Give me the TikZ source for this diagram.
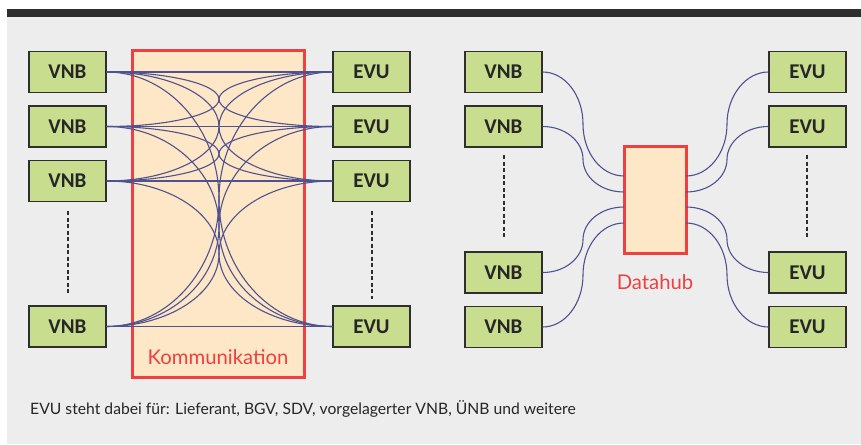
\documentclass[tikz,border=0pt]{standalone}
\usepackage{fontspec}
\setmainfont{Lato}
\newfontfamily\boxfont{Carlito}
\definecolor{bggray}{HTML}{EDEDED}
\definecolor{barcol}{HTML}{2E2E2E}
\definecolor{boxgreen}{HTML}{C9DD8E}
\definecolor{boxedge}{HTML}{2F2F2F}
\definecolor{peach}{HTML}{FDE7C6}
\definecolor{redline}{HTML}{EE4040}
\definecolor{linkblue}{HTML}{50528F}
\begin{document}
\begin{tikzpicture}[x=1pt,y=-1pt,
  actor/.style={draw=boxedge,line width=1.4pt,fill=boxgreen,minimum width=77pt,minimum height=41pt,inner sep=0pt,font=\boxfont\bfseries\fontsize{21}{21}\selectfont,text=black!85},
  hub/.style={draw=redline,line width=3pt,fill=peach,inner sep=0pt},
  link/.style={draw=linkblue,line width=1.1pt},
  dots/.style={draw=barcol,line width=1.8pt,dash pattern=on 4pt off 2.5pt},
  redlabel/.style={text=redline,font=\fontsize{20.3}{20.3}\selectfont,inner sep=0pt}]
\useasboundingbox (0,0) rectangle (861,444);
\fill[white] (0,0) rectangle (861,444);
\fill[bggray] (7,17) rectangle (861,444);
\fill[barcol] (7,9) rectangle (861,17);

% ---------- left diagram ----------
\node[hub,minimum width=172pt,minimum height=326pt] (komm) at (218,214) {};
\node[redlabel] (kommlbl) at (218,357) {Kommunikation};

\node[actor] (lv1) at (67.5,72) {VNB};
\node[actor] (lv2) at (67.5,126.5) {VNB};
\node[actor] (lv3) at (67.5,181) {VNB};
\node[actor] (lv5) at (67.5,326.5) {VNB};
\node[actor] (le1) at (371.5,72) {EVU};
\node[actor] (le2) at (371.5,126.5) {EVU};
\node[actor] (le3) at (371.5,181) {EVU};
\node[actor] (le5) at (371.5,326.5) {EVU};

\coordinate (ldA1) at (68,211);
\coordinate (ldA2) at (68,295);
\coordinate (ldB1) at (372,211);
\coordinate (ldB2) at (372,299);
\draw[dots] (ldA1) -- (ldA2);
\draw[dots] (ldB1) -- (ldB2);

\foreach \a/\ya in {1/72,2/126.5,3/181,5/326.5}{
  \foreach \b/\yb in {1/72,2/126.5,3/181,5/326.5}{
    \pgfmathsetmacro\ym{(\ya+\yb)/2}
    \pgfmathsetmacro\cA{\ym-0.55*(\ym-\ya)}
    \pgfmathsetmacro\cB{\ym+0.55*(\yb-\ym)}
    \draw[link] (lv\a.east) .. controls (168,\ya) and (219,\cA) .. (219,\ym)
       .. controls (219,\cB) and (270,\yb) .. (le\b.west);
  }
}

% ---------- right diagram ----------
\node[hub,minimum width=62pt,minimum height=107pt] (dh) at (655,199.5) {};
\node[redlabel] (dhlbl) at (655,282) {Datahub};

\node[actor] (rv1) at (503.5,72) {VNB};
\node[actor] (rv2) at (503.5,126.5) {VNB};
\node[actor] (rv3) at (503.5,272.5) {VNB};
\node[actor] (rv4) at (503.5,327) {VNB};
\node[actor] (re1) at (807.5,72) {EVU};
\node[actor] (re2) at (807.5,126.5) {EVU};
\node[actor] (re3) at (807.5,272.5) {EVU};
\node[actor] (re4) at (807.5,327) {EVU};

\coordinate (rdA1) at (504,155);
\coordinate (rdA2) at (504,239);
\coordinate (rdB1) at (807,155);
\coordinate (rdB2) at (807,239);
\draw[dots] (rdA1) -- (rdA2);
\draw[dots] (rdB1) -- (rdB2);

\coordinate (dhL1) at (624,176);
\coordinate (dhL2) at (624,192);
\coordinate (dhL3) at (624,207);
\coordinate (dhL4) at (624,223);
\coordinate (dhR1) at (686,176);
\coordinate (dhR2) at (686,192);
\coordinate (dhR3) at (686,207);
\coordinate (dhR4) at (686,223);
\foreach \i/\ya/\yb in {1/72/176,2/126.5/192,3/272.5/207,4/327/223}{
  \pgfmathsetmacro\ym{(\ya+\yb)/2}
  \pgfmathsetmacro\cA{\ym-0.55*(\ym-\ya)}
  \pgfmathsetmacro\cB{\ym+0.55*(\yb-\ym)}
  \draw[link] (rv\i.east) .. controls (565,\ya) and (583,\cA) .. (583,\ym)
     .. controls (583,\cB) and (601,\yb) .. (dhL\i);
  \draw[link] (re\i.west) .. controls (746,\ya) and (727,\cA) .. (727,\ym)
     .. controls (727,\cB) and (709,\yb) .. (dhR\i);
}

% ---------- caption ----------
\node[anchor=west,inner sep=0pt,font=\fontsize{15.7}{15.7}\selectfont,text=black!85] (cap) at (30,409)
  {EVU steht dabei für: Lieferant, BGV, SDV, vorgelagerter VNB, ÜNB und weitere};
\end{tikzpicture}
\end{document}
